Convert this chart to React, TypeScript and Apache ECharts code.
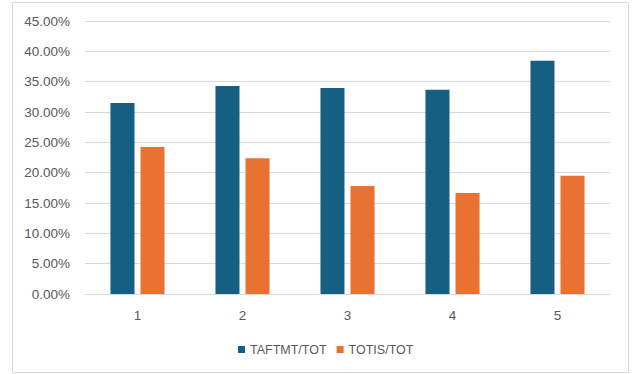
import React, { useEffect, useRef } from "react";
import * as echarts from "echarts";

const categories = ["1", "2", "3", "4", "5"];
const taftmtTot = [0.3148, 0.3428, 0.3395, 0.3367, 0.3845];
const totisTot = [0.2423, 0.2236, 0.178, 0.1665, 0.195];
const seriesNames = ["TAFTMT/TOT", "TOTIS/TOT"];

const FONT = "Liberation Sans, Arial, sans-serif";

export default function App() {
  const ref = useRef<HTMLDivElement>(null);
  useEffect(() => {
    if (!ref.current) return;
    const chart = echarts.init(ref.current, null, { renderer: "svg" });
    chart.setOption({
      animation: false,
      backgroundColor: "#ffffff",
      textStyle: { fontFamily: FONT },
      grid: { left: 85, right: 25, top: 21, bottom: 80, containLabel: false },
      graphic: [
        {
          type: "rect",
          shape: { x: 12.5, y: 2.5, width: 616, height: 370 },
          style: { fill: "none", stroke: "#D9D9D9", lineWidth: 1 },
          silent: true,
        },
      ],
      legend: {
        left: 233,
        top: 338,
        itemWidth: 7,
        itemHeight: 7,
        itemGap: 10,
        icon: "rect",
        textStyle: { color: "#595959", fontSize: 12.5, fontFamily: FONT },
        data: seriesNames,
      },
      xAxis: {
        type: "category",
        data: categories,
        axisLine: { show: true, lineStyle: { color: "#D9D9D9", width: 1 } },
        axisTick: { show: false },
        axisLabel: { color: "#595959", fontSize: 13.5, margin: 14, fontFamily: FONT },
      },
      yAxis: {
        type: "value",
        min: 0,
        max: 0.45,
        interval: 0.05,
        axisLine: { show: false },
        axisTick: { show: false },
        splitLine: { lineStyle: { color: "#D9D9D9", width: 1 } },
        axisLabel: {
          color: "#595959",
          fontSize: 13.5,
          margin: 15,
          fontFamily: FONT,
          formatter: (v: number) => (v * 100).toFixed(2) + "%",
        },
      },
      series: [
        {
          name: seriesNames[0],
          type: "bar",
          data: taftmtTot,
          itemStyle: { color: "#156082" },
          barGap: "25%",
          barCategoryGap: "48.5%",
        },
        {
          name: seriesNames[1],
          type: "bar",
          data: totisTot,
          itemStyle: { color: "#E97132" },
          barGap: "25%",
          barCategoryGap: "48.5%",
        },
      ],
    });
    return () => chart.dispose();
  }, []);
  return (
    <div
      ref={ref}
      style={{ position: "fixed", left: 0, top: 0, width: 635, height: 374 }}
    />
  );
}
